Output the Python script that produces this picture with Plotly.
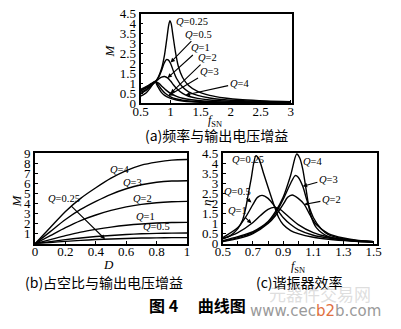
import plotly.graph_objects as go

W, H = 401, 329

# ---------- (a) voltage gain M versus normalised frequency f_SN ----------
a_q025_x = [0.5, 0.6, 0.7, 0.75, 0.8, 0.85, 0.9, 0.94, 0.97, 0.99, 1.01, 1.04, 1.08, 1.13, 1.2, 1.3, 1.45, 1.65, 1.9, 2.2, 2.6, 3.0]
a_q025_m = [0.55, 0.7, 0.95, 1.1, 1.35, 1.75, 2.45, 3.3, 3.95, 4.15, 4.0, 3.4, 2.6, 1.85, 1.3, 0.9, 0.6, 0.4, 0.27, 0.18, 0.12, 0.09]
a_q05_x = [0.5, 0.6, 0.7, 0.75, 0.8, 0.85, 0.89, 0.93, 0.96, 1.0, 1.05, 1.1, 1.2, 1.3, 1.45, 1.65, 1.9, 2.2, 2.6, 3.0]
a_q05_m = [0.62, 0.78, 0.98, 1.1, 1.3, 1.65, 2.0, 2.2, 2.18, 2.0, 1.6, 1.25, 0.82, 0.58, 0.4, 0.27, 0.18, 0.13, 0.09, 0.07]
a_q1_x = [0.5, 0.6, 0.7, 0.75, 0.8, 0.85, 0.9, 0.95, 1.0, 1.05, 1.1, 1.2, 1.3, 1.45, 1.65, 1.9, 2.2, 2.6, 3.0]
a_q1_m = [0.66, 0.82, 1.0, 1.1, 1.22, 1.32, 1.35, 1.28, 1.12, 0.92, 0.75, 0.5, 0.36, 0.25, 0.17, 0.12, 0.09, 0.06, 0.05]
a_q2_x = [0.5, 0.6, 0.68, 0.74, 0.8, 0.86, 0.92, 1.0, 1.1, 1.2, 1.35, 1.5, 1.75, 2.0, 2.5, 3.0]
a_q2_m = [0.7, 0.85, 1.0, 1.1, 1.02, 0.85, 0.68, 0.5, 0.35, 0.26, 0.18, 0.13, 0.09, 0.07, 0.05, 0.04]
a_q3_x = [0.5, 0.6, 0.68, 0.74, 0.79, 0.85, 0.92, 1.0, 1.1, 1.2, 1.35, 1.5, 1.75, 2.0, 2.5, 3.0]
a_q3_m = [0.48, 0.68, 0.92, 1.1, 0.95, 0.7, 0.48, 0.33, 0.22, 0.16, 0.11, 0.08, 0.06, 0.05, 0.03, 0.03]
a_q4_x = [0.5, 0.6, 0.68, 0.74, 0.78, 0.84, 0.9, 1.0, 1.1, 1.2, 1.35, 1.5, 1.75, 2.0, 2.5, 3.0]
a_q4_m = [0.36, 0.55, 0.85, 1.1, 0.88, 0.58, 0.4, 0.25, 0.17, 0.12, 0.08, 0.06, 0.04, 0.03, 0.02, 0.02]

a_xticks = [0.5, 1, 1.5, 2, 2.5, 3]
a_xtext = ["0.5", "1", "1.5", "2", "2.5", "3"]
a_yticks = [0, 0.5, 1, 1.5, 2, 2.5, 3, 3.5, 4, 4.5]
a_ytext = ["0", "0.5", "1", "1.5", "2", "2.5", "3", "3.5", "4", "4.5"]

# ---------- (b) voltage gain M versus duty cycle D ----------
b_d = [0, 0.1, 0.2, 0.3, 0.4, 0.5, 0.6, 0.7, 0.8, 0.9, 1.0]
b_q4 = [0, 1.6, 3.2, 4.5, 5.55, 6.5, 7.25, 7.8, 8.1, 8.3, 8.35]
b_q3 = [0, 1.2, 2.4, 3.4, 4.2, 4.9, 5.45, 5.85, 6.1, 6.22, 6.25]
b_q2 = [0, 0.8, 1.6, 2.3, 2.85, 3.3, 3.65, 3.9, 4.07, 4.16, 4.2]
b_q1 = [0, 0.4, 0.8, 1.15, 1.42, 1.65, 1.83, 1.96, 2.05, 2.1, 2.12]
b_q05 = [0, 0.2, 0.4, 0.57, 0.71, 0.82, 0.91, 0.98, 1.02, 1.05, 1.06]
b_q025 = [0, 0.12, 0.23, 0.33, 0.41, 0.47, 0.52, 0.56, 0.58, 0.6, 0.6]

b_xticks = [0, 0.2, 0.4, 0.6, 0.8, 1]
b_xtext = ["0", "0.2", "0.4", "0.6", "0.8", "1"]
b_yticks = [0, 1, 2, 3, 4, 5, 6, 7, 8, 9]
b_ytext = ["", "1", "2", "3", "4", "5", "6", "7", "8", "9"]

# ---------- (c) resonator efficiency versus f_SN ----------
c_q025_x = [0.5, 0.55, 0.6, 0.63, 0.65, 0.67, 0.69, 0.705, 0.72, 0.74, 0.77, 0.8, 0.84, 0.87, 0.9, 0.95, 1.0, 1.1, 1.2, 1.35, 1.5]
c_q025_e = [0.25, 0.4, 0.75, 1.15, 1.7, 2.5, 3.3, 4.0, 4.37, 4.2, 3.5, 2.8, 1.9, 1.3, 0.95, 0.65, 0.5, 0.32, 0.22, 0.13, 0.08]
c_q05_x = [0.5, 0.6, 0.65, 0.7, 0.73, 0.76, 0.8, 0.85, 0.9, 0.95, 1.0, 1.1, 1.2, 1.35, 1.5]
c_q05_e = [0.3, 0.8, 1.3, 1.95, 2.3, 2.4, 2.25, 1.8, 1.3, 0.95, 0.7, 0.42, 0.28, 0.16, 0.1]
c_q1_x = [0.5, 0.6, 0.7, 0.75, 0.8, 0.84, 0.88, 0.92, 1.0, 1.1, 1.2, 1.35, 1.5]
c_q1_e = [0.25, 0.55, 1.05, 1.4, 1.7, 1.8, 1.7, 1.45, 0.95, 0.55, 0.33, 0.17, 0.1]
c_q2_x = [0.5, 0.6, 0.7, 0.8, 0.85, 0.9, 0.93, 0.96, 1.0, 1.04, 1.08, 1.12, 1.2, 1.3, 1.4, 1.5]
c_q2_e = [0.1, 0.25, 0.5, 1.0, 1.4, 1.95, 2.3, 2.42, 2.25, 1.95, 1.4, 0.95, 0.5, 0.28, 0.16, 0.1]
c_q3_x = [0.5, 0.6, 0.7, 0.8, 0.85, 0.9, 0.95, 0.98, 1.0, 1.03, 1.06, 1.1, 1.15, 1.2, 1.3, 1.4, 1.5]
c_q3_e = [0.12, 0.3, 0.55, 1.05, 1.5, 2.2, 3.0, 3.38, 3.3, 2.85, 2.1, 1.3, 0.75, 0.45, 0.24, 0.14, 0.09]
c_q4_x = [0.5, 0.6, 0.7, 0.8, 0.85, 0.9, 0.95, 0.99, 1.01, 1.03, 1.05, 1.08, 1.12, 1.2, 1.3, 1.4, 1.5]
c_q4_e = [0.15, 0.35, 0.6, 1.1, 1.6, 2.3, 3.4, 4.45, 4.25, 3.7, 2.8, 1.5, 0.8, 0.35, 0.18, 0.11, 0.07]

c_xticks = [0.5, 0.6, 0.7, 0.8, 0.9, 1.0, 1.1, 1.2, 1.3, 1.4, 1.5]
c_xtext = ["0.5", "", "0.7", "", "0.9", "", "1.1", "", "1.3", "", "1.5"]
c_yticks = [0, 0.5, 1, 1.5, 2, 2.5, 3, 3.5, 4, 4.5]
c_ytext = ["0", "0.5", "1", "1.5", "2", "2.5", "3", "3.5", "4", "4.5"]

SERIF = "Liberation Serif"
CJK = "Noto Sans CJK SC"


def px_x(p):
    return p / W


def px_y(p):
    return 1 - p / H


fig = go.Figure()

line = dict(color="black", width=1.4, shape="spline", smoothing=0.8)

for xs, ys in [(a_q025_x, a_q025_m), (a_q05_x, a_q05_m), (a_q1_x, a_q1_m),
               (a_q2_x, a_q2_m), (a_q3_x, a_q3_m), (a_q4_x, a_q4_m)]:
    fig.add_trace(go.Scatter(x=xs, y=ys, mode="lines", line=line,
                             xaxis="x", yaxis="y", showlegend=False))

for ys in [b_q4, b_q3, b_q2, b_q1, b_q05, b_q025]:
    fig.add_trace(go.Scatter(x=b_d, y=ys, mode="lines", line=line,
                             xaxis="x2", yaxis="y2", showlegend=False))

for xs, ys in [(c_q025_x, c_q025_e), (c_q05_x, c_q05_e), (c_q1_x, c_q1_e),
               (c_q2_x, c_q2_e), (c_q3_x, c_q3_e), (c_q4_x, c_q4_e)]:
    fig.add_trace(go.Scatter(x=xs, y=ys, mode="lines", line=line,
                             xaxis="x3", yaxis="y3", showlegend=False))


def axis(domain, rng, tickvals, ticktext, anchor, standoff=0):
    return dict(domain=domain, range=rng, tickmode="array", tickvals=tickvals,
                ticktext=ticktext, showline=True, mirror=True, linecolor="black",
                linewidth=1.8, ticks="inside", ticklen=3, tickwidth=1,
                tickcolor="black", showgrid=False, zeroline=False, anchor=anchor,
                ticklabelstandoff=standoff,
                tickfont=dict(family=SERIF, size=13, color="black"))


fig.update_layout(
    width=W, height=H, margin=dict(l=0, r=0, t=0, b=0),
    paper_bgcolor="white", plot_bgcolor="white",
    xaxis=axis([px_x(137), px_x(294)], [0.5, 3.03], a_xticks, a_xtext, "y", -5),
    yaxis=axis([px_y(101), px_y(7)], [0, 4.5], a_yticks, a_ytext, "x"),
    xaxis2=axis([px_x(28), px_x(185)], [0, 1.0], b_xticks, b_xtext, "y2", -5),
    yaxis2=axis([px_y(248), px_y(153)], [0, 9], b_yticks, b_ytext, "x2"),
    xaxis3=axis([px_x(222), px_x(381)], [0.5, 1.52], c_xticks, c_xtext, "y3", -5),
    yaxis3=axis([px_y(248), px_y(153)], [0, 4.5], c_yticks, c_ytext, "x3"),
)

ann = []


def label(text, x, y, xr, yr, size=10.5):
    ann.append(dict(text=text, x=x, y=y, xref=xr, yref=yr, showarrow=False,
                    xanchor="center", yanchor="middle",
                    font=dict(family=SERIF, size=size, color="black")))


def pointer(text, hx, hy, tx, ty, xr, yr, size=10.5):
    ann.append(dict(text=text, x=hx, y=hy, ax=tx, ay=ty, xref=xr, yref=yr,
                    axref=xr, ayref=yr, showarrow=True, arrowhead=2,
                    arrowsize=0.8, arrowwidth=1.1, arrowcolor="black",
                    font=dict(family=SERIF, size=size, color="black")))


def paper_text(text, px, py, font, angle=0):
    ann.append(dict(text=text, x=px_x(px), y=px_y(py), xref="paper", yref="paper",
                    xanchor="center", yanchor="middle", showarrow=False,
                    textangle=angle, font=font))


# (a) curve labels
label("<i>Q</i>=0.25", 1.36, 4.1, "x", "y")
pointer("<i>Q</i>=0.5", 1.0, 2.05, 1.46, 3.47, "x", "y")
pointer("<i>Q</i>=1", 0.95, 1.28, 1.5, 2.78, "x", "y")
pointer("<i>Q</i>=2", 1.0, 0.5, 1.62, 2.3, "x", "y")
pointer("<i>Q</i>=3", 0.96, 0.38, 1.64, 1.6, "x", "y")
pointer("<i>Q</i>=4", 1.25, 0.42, 2.15, 1.02, "x", "y")

# (b) curve labels
label("<i>Q</i>=4", 0.56, 7.4, "x2", "y2")
label("<i>Q</i>=3", 0.64, 6.05, "x2", "y2")
label("<i>Q</i>=2", 0.71, 4.45, "x2", "y2")
label("<i>Q</i>=1", 0.73, 2.65, "x2", "y2")
label("<i>Q</i>=0.5", 0.8, 1.75, "x2", "y2")
pointer("<i>Q</i>=0.25", 0.46, 0.46, 0.19, 4.45, "x2", "y2")

# (c) curve labels
label("<i>Q</i>=0.25", 0.67, 4.2, "x3", "y3")
pointer("<i>Q</i>=0.5", 0.69, 2.05, 0.6, 2.6, "x3", "y3")
pointer("<i>Q</i>=1", 0.69, 1.0, 0.6, 1.65, "x3", "y3")
label("<i>Q</i>=4", 1.1, 4.1, "x3", "y3")
pointer("<i>Q</i>=3", 1.03, 2.85, 1.2, 3.2, "x3", "y3")
pointer("<i>Q</i>=2", 1.04, 1.95, 1.22, 2.2, "x3", "y3")

# axis titles
title_font = dict(family=SERIF, size=13, color="black")
sub_font = dict(family=SERIF, size=12, color="black")
paper_text("<i>M</i>", 105, 46, title_font, -90)
paper_text("<i>f</i><sub>SN</sub>", 214, 119, sub_font)
paper_text("<i>M</i>", 9, 203, title_font, -90)
paper_text("<i>D</i>", 104, 270, title_font)
paper_text("<i>η</i>", 205, 205, title_font, -90)
paper_text("<i>f</i><sub>SN</sub>", 300, 272, sub_font)

# captions
cap_font = dict(family=CJK, size=14, color="black")
paper_text("(a)频率与输出电压增益", 216, 134, cap_font)
paper_text("(b)占空比与输出电压增益", 99, 288, cap_font)
paper_text("(c)谐振器效率", 301, 288, cap_font)
paper_text("<b>图 4　 曲线图</b>", 196, 312, dict(family=CJK, size=16, color="black"))

# site watermark
paper_text("元器件交易网", 322, 300, dict(family=CJK, size=17, color="rgba(200,200,200,0.6)"))
paper_text("www.cec<span style='color:#e07040'>b2</span>b.com", 318, 318,
           dict(family="DejaVu Sans", size=15, color="#9a9a9a"))

fig.update_layout(annotations=ann)

fig.write_html("out.html")
